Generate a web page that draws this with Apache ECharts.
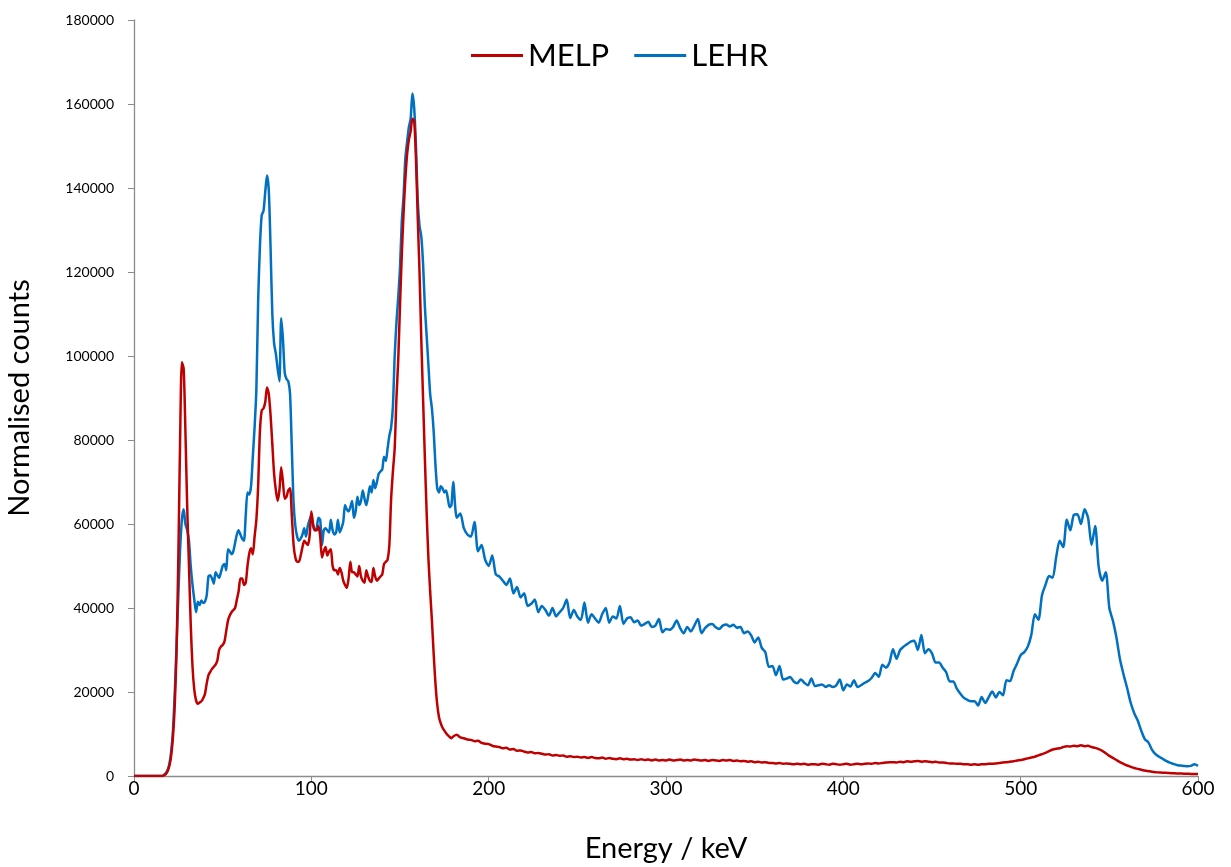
<!DOCTYPE html>
<html>
<head>
<meta charset="utf-8">
<script src="https://cdn.jsdelivr.net/npm/echarts@6/dist/echarts.min.js"></script>
<style>
  html, body { margin: 0; padding: 0; background: #ffffff; }
  #chart { width: 1231px; height: 867px; }
</style>
</head>
<body>
<div id="chart"></div>
<script>
// ---------- DATA ----------
const seriesNames = ["MELP", "LEHR"];
const xTicks = [0, 100, 200, 300, 400, 500, 600];
const yTicks = [0, 20000, 40000, 60000, 80000, 100000, 120000, 140000, 160000, 180000];

// Energy (keV): 1 keV steps up to 180, 2 keV steps above
const energyLow = [0,
  16, 17, 18, 19,
  20, 21, 22, 23, 24, 25, 26, 27, 28, 29,
  30, 31, 32, 33, 34, 35, 36, 37, 38, 39,
  40, 41, 42, 43, 44, 45, 46, 47, 48, 49,
  50, 51, 52, 53, 54, 55, 56, 57, 58, 59,
  60, 61, 62, 63, 64, 65, 66, 67, 68, 69,
  70, 71, 72, 73, 74, 75, 76, 77, 78, 79,
  80, 81, 82, 83, 84, 85, 86, 87, 88, 89,
  90, 91, 92, 93, 94, 95, 96, 97, 98, 99,
  100, 101, 102, 103, 104, 105, 106, 107, 108, 109,
  110, 111, 112, 113, 114, 115, 116, 117, 118, 119,
  120, 121, 122, 123, 124, 125, 126, 127, 128, 129,
  130, 131, 132, 133, 134, 135, 136, 137, 138, 139,
  140, 141, 142, 143, 144, 145, 146, 147, 148, 149,
  150, 151, 152, 153, 154, 155, 156, 157, 158, 159,
  160, 161, 162, 163, 164, 165, 166, 167, 168, 169,
  170, 171, 172, 173, 174, 175, 176, 177, 178, 179, 180];
const energyHigh = [
  182, 184, 186, 188, 190, 192, 194, 196, 198, 200,
  202, 204, 206, 208, 210, 212, 214, 216, 218, 220,
  222, 224, 226, 228, 230, 232, 234, 236, 238, 240,
  242, 244, 246, 248, 250, 252, 254, 256, 258, 260,
  262, 264, 266, 268, 270, 272, 274, 276, 278, 280,
  282, 284, 286, 288, 290, 292, 294, 296, 298, 300,
  302, 304, 306, 308, 310, 312, 314, 316, 318, 320,
  322, 324, 326, 328, 330, 332, 334, 336, 338, 340,
  342, 344, 346, 348, 350, 352, 354, 356, 358, 360,
  362, 364, 366, 368, 370, 372, 374, 376, 378, 380,
  382, 384, 386, 388, 390, 392, 394, 396, 398, 400,
  402, 404, 406, 408, 410, 412, 414, 416, 418, 420,
  422, 424, 426, 428, 430, 432, 434, 436, 438, 440,
  442, 444, 446, 448, 450, 452, 454, 456, 458, 460,
  462, 464, 466, 468, 470, 472, 474, 476, 478, 480,
  482, 484, 486, 488, 490, 492, 494, 496, 498, 500,
  502, 504, 506, 508, 510, 512, 514, 516, 518, 520,
  522, 524, 526, 528, 530, 532, 534, 536, 538, 540,
  542, 544, 546, 548, 550, 552, 554, 556, 558, 560,
  562, 564, 566, 568, 570, 572, 574, 576, 578, 580,
  582, 584, 586, 588, 590, 592, 594, 596, 598, 600];

// MELP normalised counts
const melpLow = [0,
  0, 200, 500, 1200,
  2500, 5000, 9500, 17000, 30000, 52000, 80000, 98500, 97000, 82000,
  64000, 50000, 36000, 26000, 20500, 18000, 17200, 17500, 17800, 18500,
  19500, 22000, 24000, 24800, 25500, 26000, 26500, 27500, 30000, 30800,
  31200, 32000, 34500, 37000, 38200, 39000, 39500, 40000, 42000, 44000,
  47000, 47000, 45500, 46000, 50000, 53000, 54200, 52800, 57000, 61000,
  69000, 82000, 87000, 87500, 89000, 92500, 91000, 86000, 79000, 72000,
  68000, 65500, 68000, 73500, 70000, 66000, 66500, 68000, 68500, 62000,
  55000, 52000, 51000, 51000, 52500, 54500, 56000, 55500, 55000, 57000,
  63000, 60000, 58500, 58500, 59500, 57000, 52000, 53500, 54500, 52500,
  53500, 54000, 50000, 49000, 49000, 48000, 49500, 48500, 46500, 45500,
  44800, 47000, 51000, 48500, 48500, 48000, 47500, 50000, 47500, 46500,
  46000, 49000, 47500, 46500, 46200, 49500, 47500, 46500, 47000, 47500,
  48000, 50500, 51000, 51500, 55000, 66000, 72500, 78000, 90000, 99000,
  112000, 124000, 134000, 142000, 148000, 151500, 153500, 156500, 156000, 147000,
  133000, 120000, 104000, 90000, 76000, 63000, 52000, 44000, 37000, 29000,
  22000, 17000, 14000, 12500, 11500, 10800, 10200, 9700, 9300, 9000, 9400];
const melpHigh = [
  9800, 9200, 9000, 8700, 8600, 8300, 8400, 7900, 7700, 7600,
  7200, 7000, 6900, 6600, 6700, 6300, 6400, 6000, 6100, 5800,
  5600, 5700, 5400, 5500, 5300, 5100, 5200, 4900, 5000, 4800,
  4900, 4600, 4700, 4500, 4600, 4400, 4500, 4300, 4500, 4300,
  4200, 4400, 4100, 4300, 4100, 4000, 4200, 4000, 4100, 3900,
  4000, 3800, 4000, 3800, 3900, 3700, 3900, 3700, 3800, 3700,
  3900, 3700, 3800, 3900, 3700, 3800, 3700, 3900, 3800, 3700,
  3800, 3600, 3800, 3700, 3600, 3800, 3700, 3800, 3600, 3700,
  3500, 3600, 3400, 3500, 3300, 3400, 3200, 3300, 3100, 3100,
  3000, 3100, 2900, 3000, 2900, 2800, 2900, 2800, 2900, 2700,
  2800, 2800, 2700, 2900, 2800, 2700, 2900, 2800, 2700, 2800,
  2900, 2700, 2800, 2900, 2800, 2900, 3000, 2900, 3100, 3000,
  3100, 3200, 3300, 3300, 3200, 3400, 3300, 3500, 3400, 3500,
  3600, 3400, 3500, 3400, 3300, 3400, 3200, 3200, 3100, 3000,
  3000, 2900, 2900, 2800, 2800, 2700, 2800, 2700, 2800, 2800,
  2900, 2900, 3000, 3100, 3200, 3300, 3400, 3500, 3700, 3800,
  4000, 4200, 4400, 4600, 4900, 5200, 5500, 5900, 6300, 6500,
  6600, 6900, 7100, 7000, 7200, 7100, 7300, 7100, 7200, 6900,
  6700, 6400, 6000, 5400, 4800, 4300, 3800, 3300, 2900, 2500,
  2200, 1900, 1700, 1500, 1300, 1150, 1000, 900, 850, 800,
  750, 700, 650, 600, 600, 550, 550, 500, 500, 500];

// LEHR normalised counts
const lehrLow = [0,
  0, 300, 700, 1500,
  3000, 6000, 11000, 20000, 31000, 43000, 54000, 61000, 63500, 60000,
  58500, 56000, 50000, 45500, 42000, 39000, 41500, 40700, 41800, 41200,
  41500, 43000, 47500, 47800, 47000, 45800, 48500, 47800, 47200, 48500,
  50000, 50500, 49000, 54000, 53500, 52800, 53500, 55500, 57500, 58500,
  57500, 56500, 56000, 62000, 67500, 67000, 69000, 76000, 83000, 92000,
  113000, 126000, 133500, 134500, 139000, 143000, 139500, 126000, 110000, 103000,
  100500, 97000, 94000, 109000, 104000, 96000, 94500, 94000, 91000, 78000,
  65000, 59500, 57000, 56000, 56500, 57500, 59000, 57000, 59500, 61000,
  62000, 59500, 58500, 59000, 61500, 61000, 55000, 58500, 59000, 58500,
  58000, 61000, 58500, 57500, 58000, 61000, 58000, 59000, 60500, 64500,
  63500, 63000, 64000, 65500, 61500, 63000, 66500, 64500, 65500, 68000,
  66000, 64500, 66500, 69000, 67500, 70500, 68500, 70000, 72000, 72500,
  73000, 76000, 75000, 78000, 81000, 83000, 88000, 100000, 108000, 114000,
  121000, 132000, 138000, 147000, 151000, 154500, 156500, 162500, 159000, 150000,
  137000, 131000, 128500, 122000, 112000, 105000, 98000, 91000, 87500, 82000,
  74000, 68500, 67500, 69000, 68500, 67500, 68000, 66000, 64000, 64500, 70000];
const lehrHigh = [
  61500, 62500, 59000, 57500, 57000, 60500, 53500, 55000, 51500, 50000,
  52500, 48000, 47500, 46500, 45500, 47000, 43500, 45000, 42500, 43500,
  40500, 41000, 42000, 39000, 40500, 39500, 38200, 40000, 38000, 39000,
  40000, 42000, 37600, 39500, 38000, 37200, 41300, 36500, 38500, 37500,
  36500, 38500, 40000, 36500, 38000, 37500, 40500, 36200, 37500, 37800,
  36600, 37000, 35800, 36200, 36700, 35500, 35800, 37400, 34200, 35000,
  34800, 35500, 37000, 35200, 34000, 35500, 34400, 35800, 37400, 34000,
  35200, 36000, 36200, 35400, 35000, 35800, 36100, 35600, 36000, 35300,
  35500, 34000, 34400, 33500, 31800, 33000, 30500, 29500, 26000, 26200,
  24000, 26200, 23000, 23200, 23600, 22500, 22100, 23000, 22200, 21600,
  23200, 21400, 21600, 21800, 21200, 21600, 21200, 21600, 23000, 20400,
  21800, 21300, 22800, 21200, 21600, 22200, 22600, 23400, 24500, 23600,
  26500, 25800, 27000, 30200, 27900, 30000, 30800, 31400, 32000, 32200,
  30000, 33600, 29200, 30200, 29200, 27000, 27000, 25800, 24700, 22500,
  22500, 20800, 19600, 18600, 18100, 17800, 17800, 16800, 18800, 17400,
  18800, 20100, 18700, 20000, 19200, 22800, 22600, 25000, 26800, 28800,
  29500, 30800, 33600, 38500, 37200, 43000, 45500, 47600, 47200, 52000,
  56000, 54500, 61000, 58500, 62200, 62300, 60000, 63500, 61500, 55000,
  59500, 49800, 46500, 48500, 40000, 37000, 33000, 27800, 24200, 21000,
  17500, 15000, 13200, 10800, 8800, 8000, 6300, 5200, 4600, 4100,
  3600, 3200, 2900, 2600, 2500, 2400, 2300, 2400, 2800, 2400];

// ---------- BUILD ----------
const energy = energyLow.concat(energyHigh);
const melp = melpLow.concat(melpHigh);
const lehr = lehrLow.concat(lehrHigh);
const pairs = (xs, ys) => xs.map((x, i) => [x, ys[i]]);

const FONT = 'Lato, "Open Sans", sans-serif';
const chart = echarts.init(document.getElementById('chart'), null, { renderer: 'canvas' });
chart.setOption({
  backgroundColor: '#ffffff',
  animation: false,
  textStyle: { fontFamily: FONT },
  legend: {
    data: seriesNames,
    left: 466,
    top: 35,
    icon: 'rect',
    itemWidth: 52,
    itemHeight: 3,
    itemGap: 25,
    textStyle: { fontFamily: FONT, fontSize: 31, color: '#000000', padding: [0, 0, 0, 0] }
  },
  grid: { left: 134, right: 33, top: 20, bottom: 91, containLabel: false, outerBoundsMode: 'none' },
  xAxis: {
    type: 'value',
    min: xTicks[0],
    max: xTicks[xTicks.length - 1],
    interval: 100,
    name: 'Energy / keV',
    nameLocation: 'middle',
    nameGap: 58,
    nameTextStyle: { fontFamily: FONT, fontSize: 29, color: '#000000' },
    axisLine: { show: true, lineStyle: { color: '#8c8c8c', width: 1.3 } },
    axisTick: { show: true, inside: false, length: 6, lineStyle: { color: '#8c8c8c' } },
    axisLabel: { fontFamily: FONT, fontSize: 19, color: '#000000', margin: 3 },
    splitLine: { show: false }
  },
  yAxis: {
    type: 'value',
    min: yTicks[0],
    max: yTicks[yTicks.length - 1],
    interval: 20000,
    name: 'Normalised counts',
    nameLocation: 'middle',
    nameGap: 100,
    nameRotate: 90,
    nameTextStyle: { fontFamily: FONT, fontSize: 29, color: '#000000' },
    axisLine: { show: true, lineStyle: { color: '#8c8c8c', width: 1.3 } },
    axisTick: { show: true, inside: false, length: 6, lineStyle: { color: '#8c8c8c' } },
    axisLabel: { fontFamily: FONT, fontSize: 14, color: '#000000', margin: 20, formatter: (v) => String(v) },
    splitLine: { show: false }
  },
  series: [
    {
      name: seriesNames[0],
      type: 'line',
      data: pairs(energy, melp),
      showSymbol: false,
      smooth: 0.25,
      lineStyle: { color: '#C00000', width: 2.5 },
      itemStyle: { color: '#C00000' },
      z: 3
    },
    {
      name: seriesNames[1],
      type: 'line',
      data: pairs(energy, lehr),
      showSymbol: false,
      smooth: 0.25,
      lineStyle: { color: '#0070C0', width: 2.5 },
      itemStyle: { color: '#0070C0' },
      z: 2
    }
  ]
});
</script>
</body>
</html>
